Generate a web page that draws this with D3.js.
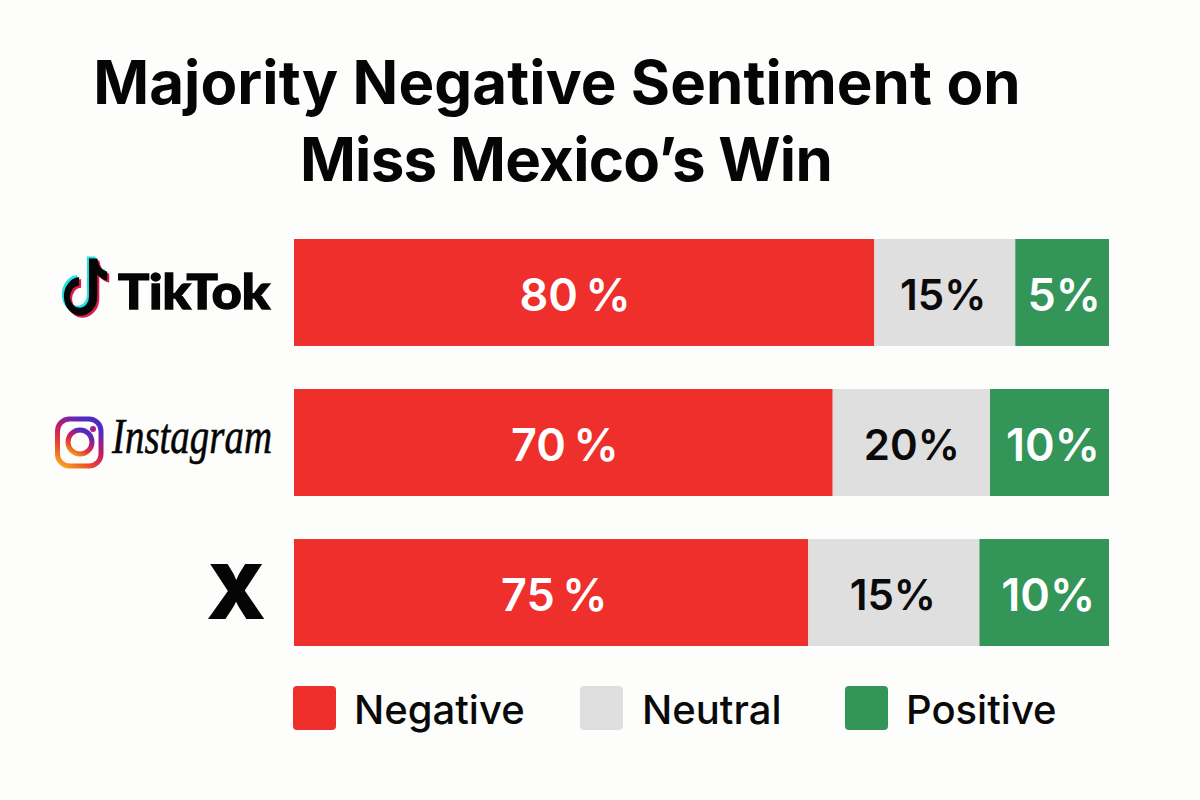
<!DOCTYPE html>
<html>
<head>
<meta charset="utf-8">
<script src="https://cdn.jsdelivr.net/npm/d3@7"></script>
<style>
  html, body { margin: 0; padding: 0; background: #fdfdfc; }
  svg { display: block; }
</style>
</head>
<body>
<div class="chart"></div>
<script>
const titleLines = ["Majority Negative Sentiment on", "Miss Mexico’s Win"];
const platforms = ["TikTok", "Instagram", "X"];
const sentiments = ["Negative", "Neutral", "Positive"];

// printed labels
const negativeLabels = ["80\u2009%", "70\u2009%", "75\u2009%"];
const neutralLabels = ["15%", "20%", "15%"];
const positiveLabels = ["5%", "10%", "10%"];

// drawn lengths as share of the full bar, these don't follow the printed labels in the picture
const negativeLengths = [71.2, 66.1, 63.1];
const neutralLengths = [17.3, 19.3, 21.0];
const positiveLengths = [11.5, 14.6, 15.9];

const colors = { Negative: "#ee2f2b", Neutral: "#dfdfe0", Positive: "#339558" };
const labelColors = { Negative: "#ffffff", Neutral: "#0a0a0a", Positive: "#ffffff" };
const sansFont = "Inter, 'Noto Sans', sans-serif";

const width = 1200, height = 800;

const svg = d3.select(".chart")
  .append("svg")
  .attr("width", width)
  .attr("height", height);

// Title
svg.selectAll(".title")
  .data(titleLines)
  .enter()
  .append("text")
  .attr("class", "title")
  .attr("x", (d, i) => i === 0 ? 557 : 566)
  .attr("y", (d, i) => 104 + i * 77)
  .attr("text-anchor", "middle")
  .attr("font-family", sansFont)
  .attr("font-size", 60)
  .attr("font-weight", 700)
  .attr("letter-spacing", (d, i) => i === 0 ? 0.1 : -0.7)
  .attr("fill", "#050505")
  .text(d => d);

const x = d3.scaleLinear().domain([0, 100]).range([294, 1109]);
const y = d3.scaleBand().domain(platforms).range([239, 646]).paddingInner(0.287);

// Stack each platform's segments
const rows = platforms.map((p, i) => ({
  platform: p,
  Negative: negativeLengths[i],
  Neutral: neutralLengths[i],
  Positive: positiveLengths[i],
  labels: { Negative: negativeLabels[i], Neutral: neutralLabels[i], Positive: positiveLabels[i] }
}));
const stacked = d3.stack().keys(sentiments)(rows);

const layers = svg.selectAll(".layer")
  .data(stacked)
  .enter()
  .append("g")
  .attr("class", "layer");

layers.selectAll("rect")
  .data(s => s.map(d => ({ key: s.key, d: d })))
  .enter()
  .append("rect")
  .attr("x", c => x(c.d[0]))
  .attr("y", c => y(c.d.data.platform))
  .attr("width", c => x(c.d[1]) - x(c.d[0]))
  .attr("height", y.bandwidth())
  .attr("fill", c => colors[c.key]);

// labels are not quite centred in the reference, nudge them
const labelNudge = {
  Negative: { TikTok: -9, Instagram: 1.5, X: 3 },
  Neutral: { TikTok: -1.5, Instagram: 0.5, X: -1 },
  Positive: { TikTok: 2, Instagram: 3.5, X: 4 }
};

layers.selectAll("text")
  .data(s => s.map(d => ({ key: s.key, d: d })))
  .enter()
  .append("text")
  .attr("x", c => (x(c.d[0]) + x(c.d[1])) / 2 + labelNudge[c.key][c.d.data.platform])
  .attr("y", c => y(c.d.data.platform) + y.bandwidth() / 2 + 6)
  .attr("dominant-baseline", "middle")
  .attr("text-anchor", "middle")
  .attr("font-family", sansFont)
  .attr("font-size", c => c.key === "Neutral" ? 42 : 45)
  .attr("font-weight", 600)
  .attr("fill", c => labelColors[c.key])
  .text(c => c.d.data.labels[c.key]);

// Platform logos, drawn roughly
const defs = svg.append("defs");
const grad = defs.append("linearGradient")
  .attr("id", "insta")
  .attr("x1", 0).attr("y1", 1).attr("x2", 0.6).attr("y2", 0);
[["0%", "#f9b31c"], ["35%", "#e8452f"], ["65%", "#c2186b"], ["100%", "#4f2bc4"]].forEach(s => {
  grad.append("stop").attr("offset", s[0]).attr("stop-color", s[1]);
});

const notePath = "M21 -30 L21 13 A12.5 12.5 0 1 1 8 1 L8 -9 A22 22 0 1 0 32 13 L32 -12 Q38 -6 45 -5 L45 -15 Q34 -17 32 -30 Z";
const tiktokY = y("TikTok") + y.bandwidth() / 2;
const tiktok = svg.append("g");
tiktok.append("path").attr("transform", `translate(71,${tiktokY - 9.5}) scale(0.76,0.88)`).attr("d", notePath).attr("fill", "#25dfe6");
tiktok.append("path").attr("transform", `translate(75,${tiktokY - 5.5}) scale(0.76,0.88)`).attr("d", notePath).attr("fill", "#e0174f");
tiktok.append("path").attr("transform", `translate(73,${tiktokY - 7.5}) scale(0.76,0.88)`).attr("d", notePath).attr("fill", "#050505");
tiktok.append("text")
  .attr("x", 118).attr("y", tiktokY + 16.5)
  .attr("font-family", "Lato, Inter, sans-serif")
  .attr("font-size", 48)
  .attr("font-weight", 900)
  .attr("stroke", "#050505")
  .attr("stroke-width", 1.4)
  .attr("textLength", 152)
  .attr("lengthAdjust", "spacingAndGlyphs")
  .attr("fill", "#050505")
  .text("TikTok");

const instaY = y("Instagram") + y.bandwidth() / 2;
const insta = svg.append("g");
insta.append("rect")
  .attr("x", 57.5).attr("y", instaY - 23.5)
  .attr("width", 43.5).attr("height", 47).attr("rx", 12)
  .attr("fill", "none").attr("stroke", "url(#insta)").attr("stroke-width", 5);
insta.append("circle")
  .attr("cx", 80).attr("cy", instaY - 0.5).attr("r", 12)
  .attr("fill", "none").attr("stroke", "url(#insta)").attr("stroke-width", 5);
insta.append("circle")
  .attr("cx", 93).attr("cy", instaY - 13.5).attr("r", 3)
  .attr("fill", "#a5208f");
insta.append("text")
  .attr("x", 112).attr("y", instaY + 10)
  .attr("font-family", "'Liberation Serif', serif")
  .attr("font-style", "italic")
  .attr("font-size", 50)
  .attr("stroke", "#050505")
  .attr("stroke-width", 0.6)
  .attr("fill", "#050505")
  .attr("textLength", 160)
  .attr("lengthAdjust", "spacingAndGlyphs")
  .text("Instagram");

svg.append("text")
  .attr("x", 236)
  .attr("y", y("X") + y.bandwidth() / 2 + 26)
  .attr("text-anchor", "middle")
  .attr("font-family", sansFont)
  .attr("font-size", 76)
  .attr("font-weight", 900)
  .attr("fill", "#050505")
  .text("X");

// Legend
const legendSwatchX = [293, 580, 845];
const legendTextX = [354, 642, 906];
const legend = svg.selectAll(".legend")
  .data(sentiments)
  .enter()
  .append("g")
  .attr("class", "legend");

legend.append("rect")
  .attr("x", (d, i) => legendSwatchX[i])
  .attr("y", 686)
  .attr("width", 43)
  .attr("height", 44)
  .attr("rx", 4)
  .attr("fill", d => colors[d]);

legend.append("text")
  .attr("x", (d, i) => legendTextX[i])
  .attr("y", 724)
  .attr("font-family", sansFont)
  .attr("font-size", 40)
  .attr("font-weight", 500)
  .attr("fill", "#0a0a0a")
  .text(d => d);
</script>
</body>
</html>
